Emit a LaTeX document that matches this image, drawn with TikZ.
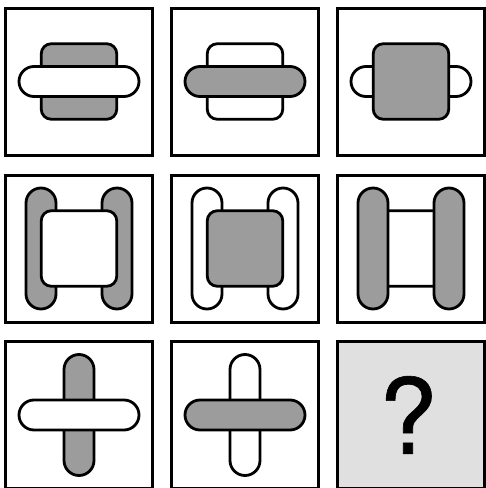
\documentclass[tikz,border=0pt]{standalone}
\usepackage{fontspec}
\usepackage{tikz}
\usetikzlibrary{positioning}
\newfontfamily\qfont[FakeBold=0.6]{TeX Gyre Heros}
\definecolor{dots}{HTML}{9C9C9C}
\definecolor{paledots}{HTML}{E0E0E0}

\tikzset{
  cell/.style={draw, line width=3pt, minimum size=147pt, inner sep=0pt},
  sq/.style={draw, line width=2.8pt, rounded corners=10pt, minimum size=75.5pt, inner sep=0pt},
  hpill/.style={draw, line width=2.8pt, rounded corners=15pt, minimum width=120pt, minimum height=30pt, inner sep=0pt},
  vpill/.style={draw, line width=2.8pt, rounded corners=15pt, minimum width=30pt, minimum height=121pt, inner sep=0pt},
  dark/.style={fill=dots},
  light/.style={fill=white}
}

\begin{document}
\begin{tikzpicture}[x=1pt, y=-1pt, node distance=16pt]
  \clip (0,0) rectangle (486,488);
  \fill[white] (0,0) rectangle (486,488);

  % frames
  \node[cell] (c1) at (79,81.5) {};
  \node[cell, right=of c1] (c2) {};
  \node[cell, right=of c2] (c3) {};
  \node[cell, below=17pt of c1] (c4) {};
  \node[cell, right=of c4] (c5) {};
  \node[cell, right=of c5] (c6) {};
  \node[cell, below=16.5pt of c4] (c7) {};
  \node[cell, right=of c7] (c8) {};
  \node[cell, right=of c8, fill=paledots] (c9) {};

  % top row
  \node[sq, dark] (s1) at (c1) {};
  \node[hpill, light] (p1) at (c1) {};
  \node[sq, light] (s2) at (c2) {};
  \node[hpill, dark] (p2) at (c2) {};
  \node[hpill, light] (p3) at (c3) {};
  \node[sq, dark] (s3) at (c3) {};

  % middle row
  \node[vpill, dark, xshift=-38pt] (l4) at (c4) {};
  \node[vpill, dark, xshift=38pt] (r4) at (c4) {};
  \node[sq, light] (s4) at (c4) {};
  \node[vpill, light, xshift=-38pt] (l5) at (c5) {};
  \node[vpill, light, xshift=38pt] (r5) at (c5) {};
  \node[sq, dark] (s5) at (c5) {};
  \node[sq, light] (s6) at (c6) {};
  \node[vpill, dark, xshift=-38pt] (l6) at (c6) {};
  \node[vpill, dark, xshift=38pt] (r6) at (c6) {};

  % bottom row
  \node[vpill, dark] (v7) at (c7) {};
  \node[hpill, light] (p7) at (c7) {};
  \node[vpill, light] (v8) at (c8) {};
  \node[hpill, dark] (p8) at (c8) {};
  \node[inner sep=0pt, xshift=-3pt, font={\qfont\fontsize{105}{105}\selectfont}] (q) at (c9) {?};
\end{tikzpicture}
\end{document}
